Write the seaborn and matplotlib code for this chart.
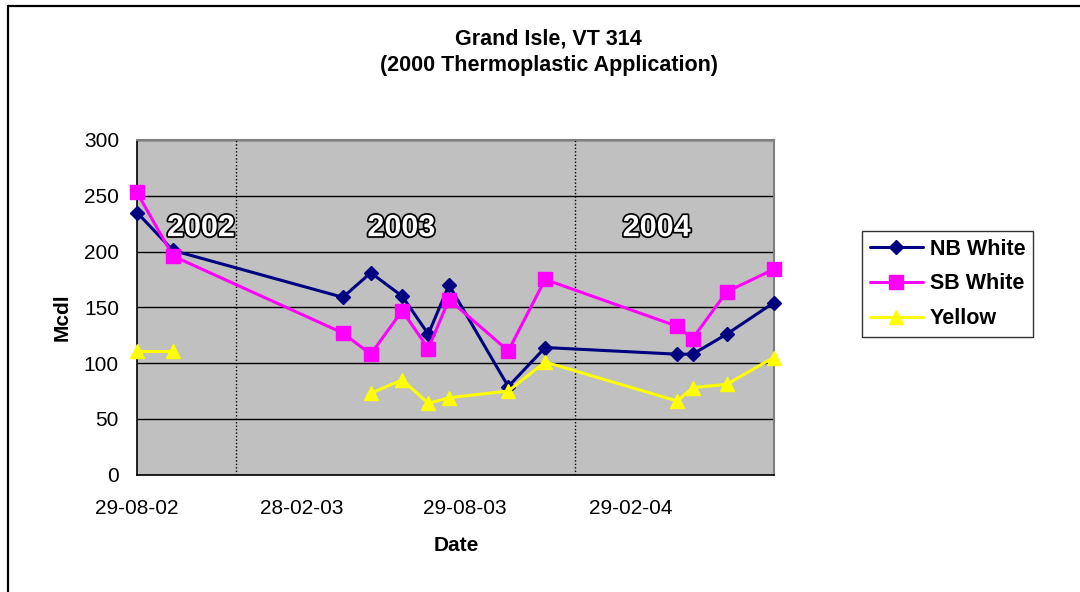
# tratamiento de datos
import pandas as pd
import numpy as np

# visualizaciones
import matplotlib.pyplot as plt
import matplotlib.dates as mdates
import matplotlib.patheffects as pe
from matplotlib.lines import Line2D
import seaborn as sns

# datos
fechas = ['2002-08-29', '2002-10-08', '2003-04-15', '2003-05-16', '2003-06-20',
          '2003-07-19', '2003-08-11', '2003-10-16', '2003-11-26', '2004-04-21',
          '2004-05-08', '2004-06-15', '2004-08-06']
nb_white = [235, 201, 159, 181, 160, 126, 170, 79, 114, 108, 108, 126, 154]
sb_white = [253, 196, 127, 108, 147, 113, 157, 111, 175, 133, 122, 164, 184]
yellow = [111, 111, np.nan, 73, 85, 64, 69, 75, 101, 66, 78, 81, 105]

series = ['NB White', 'SB White', 'Yellow']
colores = ['#000080', '#FF00FF', '#FFFF00']
marcadores = ['D', 's', '^']
tam_marcador = [7.5, 9.5, 10]

ticks_fecha = ['2002-08-29', '2003-02-28', '2003-08-29', '2004-02-29']
separadores = ['2002-12-17', '2003-12-29']
anios = ['2002', '2003', '2004']
pos_anios = ['2002-11-08', '2003-06-19', '2004-03-29']

sns.set_style('white')
plt.rcParams['font.family'] = ['Liberation Sans', 'DejaVu Sans']
plt.rcParams['text.color'] = 'black'
plt.rcParams['axes.labelcolor'] = 'black'
plt.rcParams['xtick.color'] = 'black'
plt.rcParams['ytick.color'] = 'black'

fig = plt.figure(figsize=(10.8, 5.92), dpi=100)
ax = fig.add_axes([137 / 1080, 1 - 474.7 / 592, 636.5 / 1080, 334.7 / 592])
ax.set_facecolor('#C0C0C0')

for nombre, valores, color, marca, ms in zip(series, [nb_white, sb_white, yellow],
                                              colores, marcadores, tam_marcador):
    df = pd.DataFrame({'fecha': pd.to_datetime(fechas), 'Mcdl': valores})
    df['tramo'] = df['Mcdl'].isna().cumsum()
    df = df.dropna()
    sns.lineplot(data=df, x='fecha', y='Mcdl', units='tramo', estimator=None,
                 color=color, marker=marca, markersize=ms, markeredgecolor=color,
                 markeredgewidth=1, linewidth=2.2, legend=False, ax=ax, zorder=3,
                 clip_on=False)

# lineas separadoras de año
for s in separadores:
    ax.axvline(pd.Timestamp(s), color='black', linestyle=(0, (1, 1.5)), linewidth=1, zorder=2)

for txt, pos in zip(anios, pos_anios):
    ax.text(pd.Timestamp(pos), 221, txt, ha='center', va='center', fontsize=22,
            fontweight='bold', color='white', zorder=4,
            path_effects=[pe.withStroke(linewidth=2.5, foreground='black')])

ax.set_ylim(0, 300)
ax.set_yticks(range(0, 301, 50))
ax.set_xlim(pd.Timestamp(fechas[0]), pd.Timestamp(fechas[-1]))
ax.set_xticks(pd.to_datetime(ticks_fecha))
ax.xaxis.set_major_formatter(mdates.DateFormatter('%d-%m-%y'))

ax.grid(axis='y', color='black', linewidth=1)
ax.grid(axis='x', visible=False)
ax.set_axisbelow(True)

ax.tick_params(axis='both', direction='out', length=5, width=1, color='black',
               labelsize=15, labelcolor='black')
ax.tick_params(axis='x', pad=12.5)
ax.tick_params(axis='y', pad=8)

for lado in ['left', 'bottom']:
    ax.spines[lado].set_color('black')
    ax.spines[lado].set_linewidth(1.2)
for lado in ['top', 'right']:
    ax.spines[lado].set_color('#808080')
    ax.spines[lado].set_linewidth(1.5)

ax.set_xlabel('Date', fontsize=15, fontweight='bold')
ax.set_ylabel('Mcdl', fontsize=15, fontweight='bold')
ax.xaxis.set_label_coords(0.501, -0.182)
ax.yaxis.set_label_coords(-0.103, 0.47)

fig.text(0.508, 1 - 38.5 / 592, 'Grand Isle, VT 314', ha='center', va='center',
         fontsize=15.5, fontweight='bold')
fig.text(0.508, 1 - 65.5 / 592, '(2000 Thermoplastic Application)', ha='center', va='center',
         fontsize=15.5, fontweight='bold')

handles = [Line2D([0], [0], color=c, marker=m, markersize=ms, markeredgecolor=c, linewidth=2.2)
           for c, m, ms in zip(colores, marcadores, tam_marcador)]
leg = ax.legend(handles, series, loc='upper left', bbox_to_anchor=(862 / 1080, 1 - 231 / 592),
                bbox_transform=fig.transFigure, frameon=True, fancybox=False, shadow=False,
                prop={'size': 15.5, 'weight': 'bold'}, handlelength=2.5, handletextpad=0.3,
                labelspacing=0.64, borderpad=0.35, borderaxespad=0)
leg.get_frame().set_edgecolor('black')
leg.get_frame().set_linewidth(1)

# borde del grafico
fig.add_artist(Line2D([7.5 / 1080, 7.5 / 1080], [0, 1 - 6 / 592], color='black', linewidth=1.6))
fig.add_artist(Line2D([7.5 / 1080, 1], [1 - 6 / 592, 1 - 6 / 592], color='black', linewidth=1.6))

fig.savefig('out.png', dpi=100)
